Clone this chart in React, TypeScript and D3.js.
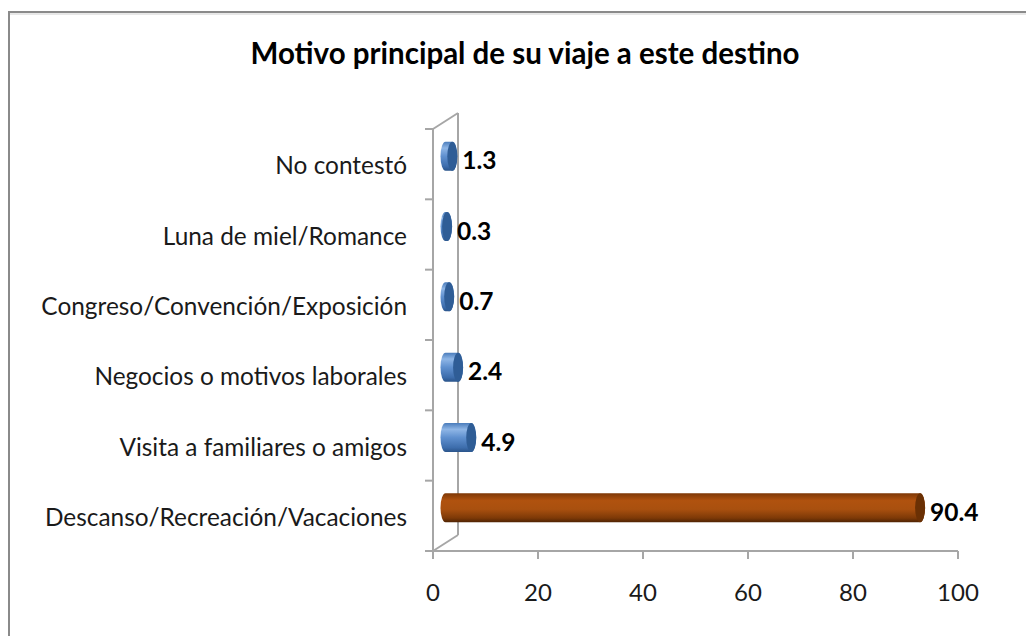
import React from "react";
import * as d3 from "d3";

const title = "Motivo principal de su viaje a este destino";
const categories = [
  "No contestó",
  "Luna de miel/Romance",
  "Congreso/Convención/Exposición",
  "Negocios o motivos laborales",
  "Visita a familiares o amigos",
  "Descanso/Recreación/Vacaciones",
];
const values = [1.3, 0.3, 0.7, 2.4, 4.9, 90.4];
const highlight = [false, false, false, false, false, true];
const xTicks = [0, 20, 40, 60, 80, 100];

const W = 1026;
const H = 636;
const FONT = "Lato, 'Noto Sans', sans-serif";

export default function App() {
  const x = d3.scaleLinear().domain([0, 100]).range([433, 958]);
  const y = d3.scaleBand<string>().domain(categories).range([129, 551]).padding(0);
  const DX = 25;
  const DY = -16;
  const half = 14.5;
  const rx = 5;

  const cylPath = (x0: number, x1: number, cy: number) =>
    `M${x0},${cy - half} L${x1},${cy - half} ` +
    `A${rx},${half} 0 0 1 ${x1},${cy + half} ` +
    `L${x0},${cy + half} A${rx},${half} 0 0 1 ${x0},${cy - half} Z`;

  const x0v = x(0);
  const axisBottom = y.range()[1];
  const axisTop = y.range()[0];
  const boundaries = [...categories.map((c) => y(c) as number), axisBottom];

  return (
    <svg
      width={W}
      height={H}
      style={{ position: "absolute", left: 0, top: 0, background: "#fff" }}
    >
      <defs>
        <linearGradient id="gBlue" x1="0" y1="0" x2="0" y2="1">
          <stop offset="0%" stopColor="#4a7cbb" />
          <stop offset="22%" stopColor="#8fb6e6" />
          <stop offset="50%" stopColor="#5f90cf" />
          <stop offset="85%" stopColor="#3d6dac" />
          <stop offset="100%" stopColor="#2a548a" />
        </linearGradient>
        <linearGradient id="gOrange" x1="0" y1="0" x2="0" y2="1">
          <stop offset="0%" stopColor="#7e3806" />
          <stop offset="25%" stopColor="#b0520f" />
          <stop offset="55%" stopColor="#a9500f" />
          <stop offset="85%" stopColor="#7d3907" />
          <stop offset="100%" stopColor="#4e2303" />
        </linearGradient>
      </defs>
      {/* chart border */}
      <rect x={9} y={12} width={W + 20} height={H + 20} fill="#fff" stroke="#8a8a8a" strokeWidth={2} />
      <line x1={10} y1={14} x2={W} y2={14} stroke="#d0d0d0" strokeWidth={1} />

      {/* title */}
      <text
        x={525}
        y={64}
        textAnchor="middle"
        fontFamily={FONT}
        fontWeight="bold"
        fontSize={29.5}
        fill="#000"
      >
        {title}
      </text>

      {/* 3D wall lines */}
      <g stroke="#a6a6a6" strokeWidth={2} fill="none">
        <line x1={x0v} y1={axisTop} x2={x0v} y2={axisBottom} />
        <line x1={x0v + DX} y1={axisTop + DY} x2={x0v + DX} y2={axisBottom + DY} />
        <line x1={x0v} y1={axisTop} x2={x0v + DX} y2={axisTop + DY} />
        <line x1={x0v} y1={axisBottom} x2={x0v + DX} y2={axisBottom + DY} />
        <line x1={x0v} y1={axisBottom} x2={x(100)} y2={axisBottom} />
        {boundaries.map((b, i) => (
          <line key={"yt" + i} x1={x0v - 8} y1={b} x2={x0v} y2={b} />
        ))}
        {xTicks.map((t) => (
          <line key={"xt" + t} x1={x(t)} y1={axisBottom} x2={x(t)} y2={axisBottom + 8} />
        ))}
      </g>

      {/* category labels */}
      {categories.map((c) => (
        <text
          key={c}
          x={407}
          y={(y(c) as number) + y.bandwidth() / 2 + 10}
          textAnchor="end"
          fontFamily={FONT}
          fontSize={24.4}
          fill="#1a1a1a"
        >
          {c}
        </text>
      ))}

      {/* x tick labels */}
      {xTicks.map((t) => (
        <text
          key={"xl" + t}
          x={x(t)}
          y={601}
          textAnchor="middle"
          fontFamily={FONT}
          fontSize={24}
          fill="#1a1a1a"
        >
          {t}
        </text>
      ))}

      {/* bars */}
      {categories.map((c, i) => {
        const cy = (y(c) as number) + y.bandwidth() / 2 + DY / 2;
        const bx0 = x(0) + DX / 2;
        const bx1 = x(values[i]) + DX / 2;
        const hi = highlight[i];
        return (
          <g key={"b" + c}>
            <path d={cylPath(bx0, bx1, cy)} fill={hi ? "url(#gOrange)" : "url(#gBlue)"} />
            <ellipse cx={bx1} cy={cy} rx={rx} ry={half} fill={hi ? "#6a3004" : "#2f5d96"} />
            <text
              x={bx1 + rx + 5}
              y={cy + 13}
              fontFamily={FONT}
              fontWeight="bold"
              fontSize={24.5}
              fill="#000"
            >
              {values[i].toFixed(1)}
            </text>
          </g>
        );
      })}
    </svg>
  );
}
